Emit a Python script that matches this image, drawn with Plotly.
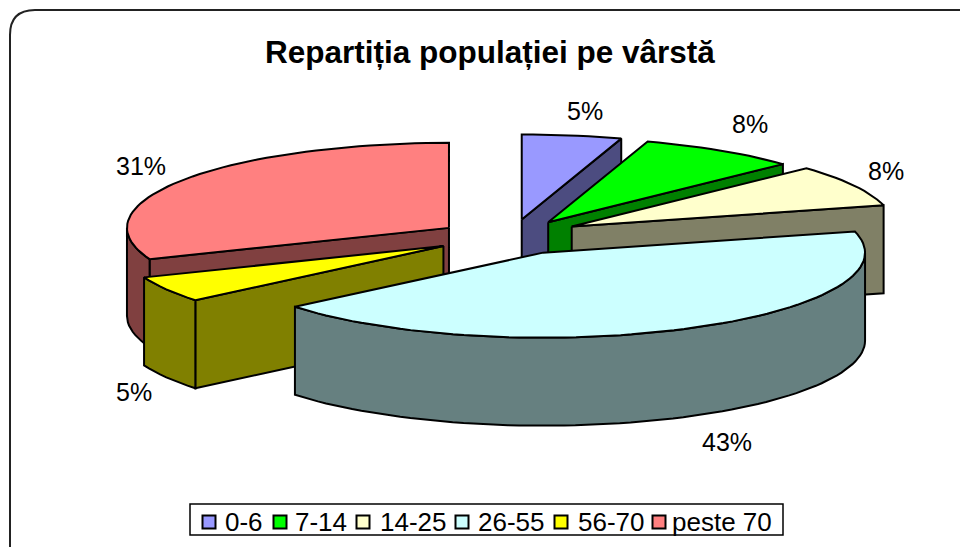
import math
import plotly.graph_objects as go

# --- data ---
categories = ["0-6", "7-14", "14-25", "26-55", "56-70", "peste 70"]
shares = [5, 8, 8, 43, 5, 31]
title_text = "Repartiția populației pe vârstă"

# --- style / layout ---
top_colors = ["#9999FF", "#00FF00", "#FFFFCC", "#CCFFFF", "#FFFF00", "#FF8080"]
side_colors = ["#4C4C80", "#008000", "#808066", "#668080", "#808000", "#804040"]
draw_order = [0, 1, 2, 5, 4, 3]
nudge_x = [0, -2, -4, -1, -2, 1]
nudge_y = [0, 0, -3, -4, -3, 0]
label_pos = [(585, 111), (750, 124), (886, 171), (727, 442), (134, 392), (141, 166)]
legend_marker_x = [209, 280, 363, 462, 561, 659]
legend_text_x = [223, 293, 378, 476, 576, 670]
LEGEND_Y = 522
FONT = "Liberation Sans"
W, H = 960, 547
CX, CY = 510, 239      # pie centre on the page
RX, RY = 322, 85       # ellipse radii of the tilted disc
DEPTH = 88             # height of the extruded disc
EXPLODE = 75           # slice explosion (in x units)
TILT = RY / RX


def rim(ax, ay, a):
    t = math.radians(a)
    return ax + RX * math.sin(t), ay - RY * math.cos(t)


def arc(ax, ay, a0, a1):
    n = max(2, int(abs(a1 - a0) / 2) + 1)
    return [rim(ax, ay, a0 + (a1 - a0) * i / (n - 1)) for i in range(n)]


fig = go.Figure()


def poly(pts, fill):
    xs = [p[0] for p in pts] + [pts[0][0]]
    ys = [p[1] for p in pts] + [pts[0][1]]
    fig.add_trace(go.Scatter(x=xs, y=ys, mode="lines", fill="toself", fillcolor=fill,
                             line=dict(color="black", width=2), hoverinfo="skip",
                             showlegend=False))


# spans of each slice, clockwise from 12 o'clock
total = sum(shares)
spans, acc = [], 0
for v in shares:
    spans.append((acc / total * 360, (acc + v) / total * 360))
    acc += v

for i in draw_order:
    a0, a1 = spans[i]
    mid = math.radians((a0 + a1) / 2)
    ax = CX + EXPLODE * math.sin(mid) + nudge_x[i]
    ay = CY - EXPLODE * TILT * math.cos(mid) + nudge_y[i]
    # visible radial faces
    for ang, visible in ((a0, math.sin(math.radians(a0)) < -1e-9),
                         (a1, math.sin(math.radians(a1)) > 1e-9)):
        if visible:
            rx_, ry_ = rim(ax, ay, ang)
            poly([(ax, ay), (rx_, ry_), (rx_, ry_ + DEPTH), (ax, ay + DEPTH)], side_colors[i])
    # visible outer wall (front half of the rim)
    w0, w1 = max(a0, 90), min(a1, 270)
    if w1 > w0:
        top = arc(ax, ay, w0, w1)
        poly(top + [(x, y + DEPTH) for x, y in reversed(top)], side_colors[i])
    # top face
    poly([(ax, ay)] + arc(ax, ay, a0, a1), top_colors[i])

# legend: swatches drawn as one marker trace, names as text
fig.add_trace(go.Scatter(x=legend_marker_x, y=[LEGEND_Y] * len(categories), mode="markers",
                         marker=dict(symbol="square", size=13, color=top_colors,
                                     line=dict(color="black", width=2)),
                         hoverinfo="skip", showlegend=False))

annotations = [dict(x=x, y=y, xref="x", yref="y", text=f"{v}%", showarrow=False,
                    font=dict(family=FONT, size=25, color="black"))
               for v, (x, y) in zip(shares, label_pos)]
annotations.append(dict(x=490, y=52, xref="x", yref="y", text=f"<b>{title_text}</b>", showarrow=False,
                        font=dict(family=FONT, size=31.5, color="black")))
annotations += [dict(x=x, y=LEGEND_Y, xref="x", yref="y", text=name, showarrow=False, xanchor="left",
                     font=dict(family=FONT, size=26, color="black"))
                for name, x in zip(categories, legend_text_x)]

R = 25
L, T = 10, 10
RE, BE = 985, 572
border = (f"M {L+R} {T} L {RE-R} {T} Q {RE} {T} {RE} {T+R} L {RE} {BE-R} "
          f"Q {RE} {BE} {RE-R} {BE} L {L+R} {BE} Q {L} {BE} {L} {BE-R} L {L} {T+R} Q {L} {T} {L+R} {T} Z")

fig.update_layout(
    width=W, height=H, margin=dict(l=0, r=0, t=0, b=0),
    paper_bgcolor="white", plot_bgcolor="white", showlegend=False,
    xaxis=dict(range=[0, W], visible=False, fixedrange=True),
    yaxis=dict(range=[H, 0], visible=False, fixedrange=True),
    annotations=annotations,
    shapes=[dict(type="path", path=border, xref="x", yref="y",
                 line=dict(color="#222222", width=2), layer="below"),
            dict(type="rect", x0=190, x1=783, y0=504, y1=535, xref="x", yref="y",
                 line=dict(color="black", width=1.5), fillcolor="white", layer="below")],
)
fig.write_html("out.html", config=dict(displayModeBar=False),
               post_script="document.body.style.margin='0';document.body.style.overflow='hidden';")
